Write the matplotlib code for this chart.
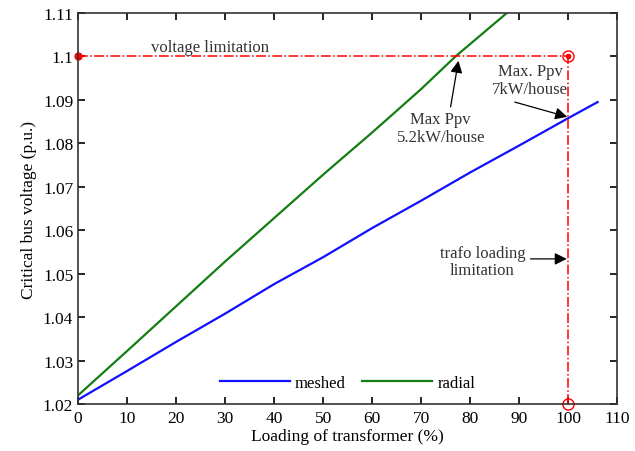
import matplotlib
matplotlib.use('Agg')
import matplotlib.pyplot as plt

plt.rcParams['font.family'] = ['Liberation Serif', 'DejaVu Serif']

# curves
load_meshed = [0, 10, 20, 30, 40, 50, 60, 70, 80, 90, 100, 106]
v_meshed = [1.0210, 1.0276, 1.0343, 1.0408, 1.0476, 1.0538, 1.0605, 1.0668, 1.0733, 1.0795, 1.0858, 1.0895]
load_radial = [0, 10, 20, 30, 40, 50, 60, 70, 77, 88]
v_radial = [1.0220, 1.0322, 1.0425, 1.0528, 1.0628, 1.0728, 1.0825, 1.0925, 1.1000, 1.1105]

v_limit = 1.1
load_limit = 100
xticks = [0, 10, 20, 30, 40, 50, 60, 70, 80, 90, 100, 110]
yticks = [1.02, 1.03, 1.04, 1.05, 1.06, 1.07, 1.08, 1.09, 1.1, 1.11]
ylabels = ['1.02', '1.03', '1.04', '1.05', '1.06', '1.07', '1.08', '1.09', '1.1', '1.11']

fig = plt.figure(figsize=(6.35, 4.52), dpi=100)
ax = fig.add_axes([0.123, 0.104, 0.849, 0.865])

ax.plot(load_meshed, v_meshed, color='#1010ff', lw=1.6, label='meshed')
ax.plot(load_radial, v_radial, color='#147d14', lw=1.6, label='radial')

ax.plot([0, load_limit], [v_limit, v_limit], color='red', ls='-.', lw=1.1)
ax.plot([load_limit, load_limit], [1.02, v_limit], color='red', ls='-.', lw=1.1)
ax.plot([0], [v_limit], 'o', color='red', ms=5, clip_on=False)
ax.plot([load_limit], [v_limit], 'o', mfc='none', mec='red', ms=8, clip_on=False)
ax.plot([load_limit], [v_limit], 'o', color='red', ms=3, clip_on=False)
ax.plot([load_limit], [1.02], 'o', mfc='none', mec='red', ms=8, clip_on=False)

txt = dict(fontsize=12, color='#333333', linespacing=1.15, ha='center')
arr = dict(arrowstyle='-|>', color='black', lw=0.9, mutation_scale=18, shrinkA=0, shrinkB=0)

ax.text(27, 1.1003, 'voltage limitation', va='bottom', **txt)

ax.text(74, 1.0875, 'Max Ppv\n5.2kW/house', va='top', **txt)
ax.annotate('', xy=(77.6, 1.0990), xytext=(76.0, 1.0884), arrowprops=arr)

ax.text(92.2, 1.0985, 'Max. Ppv\n7kW/house', va='top', **txt)
ax.annotate('', xy=(99.8, 1.0861), xytext=(89.1, 1.0895), arrowprops=arr)

ax.text(82.5, 1.0528, 'trafo loading\nlimitation', va='center', **txt)
ax.annotate('', xy=(99.7, 1.0534), xytext=(92.3, 1.0534), arrowprops=arr)

ax.set_xlim(0, 110)
ax.set_ylim(1.02, 1.11)
ax.set_xticks(xticks)
ax.set_yticks(yticks)
ax.set_yticklabels(ylabels)
ax.tick_params(direction='in', top=True, right=True, labelsize=12.5, length=5, width=1.2)
ax.tick_params(axis='x', pad=4)
for s in ax.spines.values():
    s.set_linewidth(1.2)
    s.set_color('#333333')
ax.set_xlabel('Loading of transformer (%)', fontsize=12.5, labelpad=2)
ax.set_ylabel('Critical bus voltage (p.u.)', fontsize=12.5, labelpad=4)

ax.legend(loc='lower center', ncol=2, frameon=False, fontsize=12, handlelength=4.2,
          handletextpad=0.3, columnspacing=1.0, bbox_to_anchor=(0.5, -0.005))

fig.savefig('out.png', dpi=100)
